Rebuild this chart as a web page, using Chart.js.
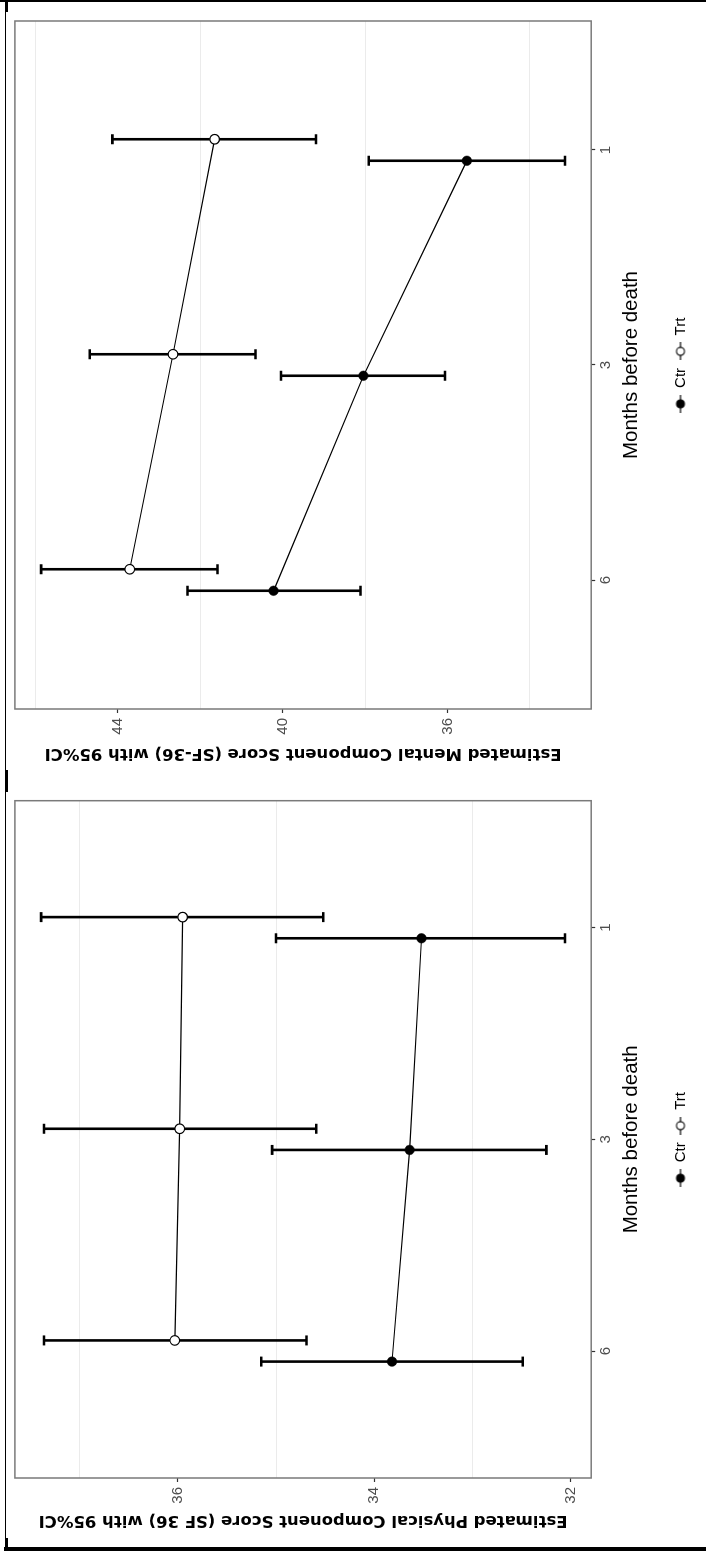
<!DOCTYPE html>
<html>
<head>
<meta charset="utf-8">
<title>Estimated SF-36 component scores before death</title>
<script src="https://cdn.jsdelivr.net/npm/chart.js@4.4.1/dist/chart.umd.min.js"></script>
<style>
  html, body { margin: 0; padding: 0; background: #fff; }
  body { width: 706px; height: 1551px; position: relative; overflow: hidden; }
  /* the figure is drawn landscape and turned a quarter turn, like the original scan */
  #figure {
    position: absolute; left: 0; top: 0; width: 1551px; height: 706px;
    transform-origin: 0 0; transform: translate(0, 1551px) rotate(-90deg);
  }
  #figure canvas { position: absolute; top: 0; }
  #physicalChart { left: 0; }
  #mentalChart { left: 775px; }
  .frame { position: absolute; background: #000; }
</style>
</head>
<body>
<div id="figure">
  <canvas id="physicalChart" width="775" height="706"></canvas>
  <canvas id="mentalChart" width="776" height="706"></canvas>
</div>
<div class="frame" style="left:0;top:0;width:706px;height:2px"></div>
<div class="frame" style="left:4px;top:1547px;width:702px;height:4px"></div>
<div class="frame" style="left:4.5px;top:0;width:1.3px;height:1551px"></div>
<div class="frame" style="left:4.5px;top:0;width:3px;height:12px"></div>
<div class="frame" style="left:4.5px;top:770px;width:3px;height:22px"></div>
<div class="frame" style="left:4.5px;top:1538px;width:3px;height:10px"></div>
<script>
//#region === Data ===

const monthLabels = ['6', '3', '1'];

// Physical Component Score (SF 36)
const physCtr = [33.82, 33.64, 33.52];
const physCtrLow = [32.49, 32.25, 32.06];
const physCtrHigh = [35.15, 35.04, 35.00];
const physTrt = [36.03, 35.98, 35.95];
const physTrtLow = [34.69, 34.59, 34.52];
const physTrtHigh = [37.36, 37.36, 37.39];
const physTicks = [32, 34, 36];
const physMinor = [33, 35, 37];

// Mental Component Score (SF-36)
const mentCtr = [40.22, 38.04, 35.53];
const mentCtrLow = [38.11, 36.06, 33.15];
const mentCtrHigh = [42.31, 40.04, 37.91];
const mentTrt = [43.71, 42.66, 41.65];
const mentTrtLow = [41.58, 40.66, 39.19];
const mentTrtHigh = [45.86, 44.68, 44.13];
const mentTicks = [36, 40, 44];
const mentMinor = [34, 38, 42, 46];

//#endregion

//#region === Helpers ===

const SANS = '"Liberation Sans", Arial, sans-serif';
const dodge = 0.05;

Chart.defaults.font.family = SANS;

// same 5% expansion ggplot uses around the data
function padRange(lows, highs) {
    const lo = Math.min(...lows);
    const hi = Math.max(...highs);
    const pad = (hi - lo) * 0.05;
    return { min: lo - pad, max: hi + pad };
}

function toPoints(values, offset) {
    return values.map((v, i) => ({ x: i + offset, y: v }));
}

// line with a dot, like the ggplot legend key
function legendKey(filled) {
    const c = document.createElement('canvas');
    c.width = 18;
    c.height = 12;
    const g = c.getContext('2d');
    g.strokeStyle = '#000';
    g.lineWidth = 1.2;
    g.beginPath();
    g.moveTo(0, 6);
    g.lineTo(18, 6);
    g.stroke();
    g.beginPath();
    g.arc(9, 6, 4, 0, Math.PI * 2);
    g.fillStyle = filled ? '#000' : '#fff';
    g.fill();
    g.stroke();
    return c;
}

const panelBorder = {
    id: 'panelBorder',
    beforeDatasetsDraw(chart) {
        const { ctx, chartArea: a } = chart;
        ctx.save();
        ctx.strokeStyle = '#7a7a7a';
        ctx.lineWidth = 1.5;
        ctx.strokeRect(a.left, a.top, a.right - a.left, a.bottom - a.top);
        ctx.restore();
    }
};

const errorBars = {
    id: 'errorBars',
    beforeDatasetsDraw(chart) {
        const { ctx, scales: { x, y } } = chart;
        ctx.save();
        ctx.strokeStyle = '#000';
        ctx.lineWidth = 2.6;
        chart.data.datasets.forEach(ds => {
            ds.data.forEach((p, i) => {
                const px = x.getPixelForValue(p.x);
                const top = y.getPixelForValue(ds.errHigh[i]);
                const bottom = y.getPixelForValue(ds.errLow[i]);
                ctx.beginPath();
                ctx.moveTo(px, top);
                ctx.lineTo(px, bottom);
                ctx.moveTo(px - 5, top);
                ctx.lineTo(px + 5, top);
                ctx.moveTo(px - 5, bottom);
                ctx.lineTo(px + 5, bottom);
                ctx.stroke();
            });
        });
        ctx.restore();
    }
};

//#endregion

//#region === Charts ===

function makeChart(canvasId, cfg) {
    const range = padRange(cfg.ctrLow.concat(cfg.trtLow), cfg.ctrHigh.concat(cfg.trtHigh));
    const allY = cfg.ticks.concat(cfg.minor).sort((a, b) => a - b);
    const tickFont = { family: SANS, size: 15 };

    return new Chart(document.getElementById(canvasId), {
        type: 'line',
        data: {
            datasets: [{
                label: 'Ctr',
                data: toPoints(cfg.ctr, -dodge),
                errLow: cfg.ctrLow,
                errHigh: cfg.ctrHigh,
                borderColor: '#000',
                borderWidth: 1.2,
                pointRadius: 4.8,
                pointBackgroundColor: '#000',
                pointBorderColor: '#000',
                pointBorderWidth: 0.5,
                tension: 0
            }, {
                label: 'Trt',
                data: toPoints(cfg.trt, dodge),
                errLow: cfg.trtLow,
                errHigh: cfg.trtHigh,
                borderColor: '#000',
                borderWidth: 1.2,
                pointRadius: 4.8,
                pointBackgroundColor: '#fff',
                pointBorderColor: '#000',
                pointBorderWidth: 1.2,
                tension: 0
            }]
        },
        options: {
            responsive: false,
            animation: false,
            events: [],
            layout: { padding: { top: 14.9, left: 0, right: cfg.padRight, bottom: 8 } },
            scales: {
                x: {
                    type: 'linear',
                    min: -0.6,
                    max: 2.6,
                    bounds: 'data',
                    afterBuildTicks: s => { s.ticks = monthLabels.map((_, i) => ({ value: i })); },
                    afterFit: s => { s.height = 73.8; },
                    ticks: {
                        callback: v => monthLabels[v],
                        autoSkip: false,
                        maxRotation: 0,
                        padding: 2,
                        color: '#4d4d4d',
                        font: tickFont
                    },
                    grid: { drawOnChartArea: false, tickLength: 4, tickColor: '#333', tickWidth: 1.2 },
                    border: { display: false },
                    title: {
                        display: true,
                        text: 'Months before death',
                        color: '#000',
                        font: { family: SANS, size: 20.5 },
                        padding: { top: 0, bottom: 21.5 }
                    }
                },
                y: {
                    type: 'linear',
                    min: range.min,
                    max: range.max,
                    bounds: 'data',
                    afterBuildTicks: s => { s.ticks = allY.map(v => ({ value: v })); },
                    afterFit: s => { s.width = cfg.axisWidth; },
                    ticks: {
                        callback: v => cfg.ticks.includes(v) ? String(v) : '',
                        autoSkip: false,
                        padding: 5,
                        color: '#4d4d4d',
                        font: tickFont
                    },
                    grid: {
                        color: c => c.tick && cfg.minor.includes(c.tick.value) ? '#ebebeb' : 'rgba(0,0,0,0)',
                        lineWidth: 1,
                        tickLength: 4,
                        tickWidth: 1.2,
                        tickColor: c => c.tick && cfg.ticks.includes(c.tick.value) ? '#333' : 'rgba(0,0,0,0)'
                    },
                    border: { display: false },
                    title: {
                        display: true,
                        text: cfg.title,
                        color: '#000',
                        font: { family: '"DejaVu Sans", Verdana, sans-serif', weight: 'bold', size: 16.5 },
                        padding: { top: cfg.titlePad, bottom: 0 }
                    }
                }
            },
            plugins: {
                legend: {
                    position: 'bottom',
                    fullSize: false,
                    labels: {
                        usePointStyle: true,
                        pointStyleWidth: 17,
                        padding: 8,
                        color: '#000',
                        font: { family: SANS, size: 15 },
                        generateLabels: () => ['Ctr', 'Trt'].map((name, i) => ({
                            text: name,
                            pointStyle: legendKey(i === 0),
                            fillStyle: i === 0 ? '#000' : '#fff',
                            strokeStyle: '#000',
                            lineWidth: 0,
                            hidden: false,
                            datasetIndex: i
                        }))
                    }
                },
                tooltip: { enabled: false }
            }
        },
        plugins: [panelBorder, errorBars]
    });
}

makeChart('physicalChart', {
    ctr: physCtr, ctrLow: physCtrLow, ctrHigh: physCtrHigh,
    trt: physTrt, trtLow: physTrtLow, trtHigh: physTrtHigh,
    ticks: physTicks, minor: physMinor,
    title: 'Estimated Physical Component Score (SF 36) with 95%CI',
    axisWidth: 73, padRight: 24.7, titlePad: 21.1
});

makeChart('mentalChart', {
    ctr: mentCtr, ctrLow: mentCtrLow, ctrHigh: mentCtrHigh,
    trt: mentTrt, trtLow: mentTrtLow, trtHigh: mentTrtHigh,
    ticks: mentTicks, minor: mentMinor,
    title: 'Estimated Mental Component Score (SF-36) with 95%CI',
    axisWidth: 67, padRight: 21, titlePad: 12.6
});

//#endregion
</script>
</body>
</html>
